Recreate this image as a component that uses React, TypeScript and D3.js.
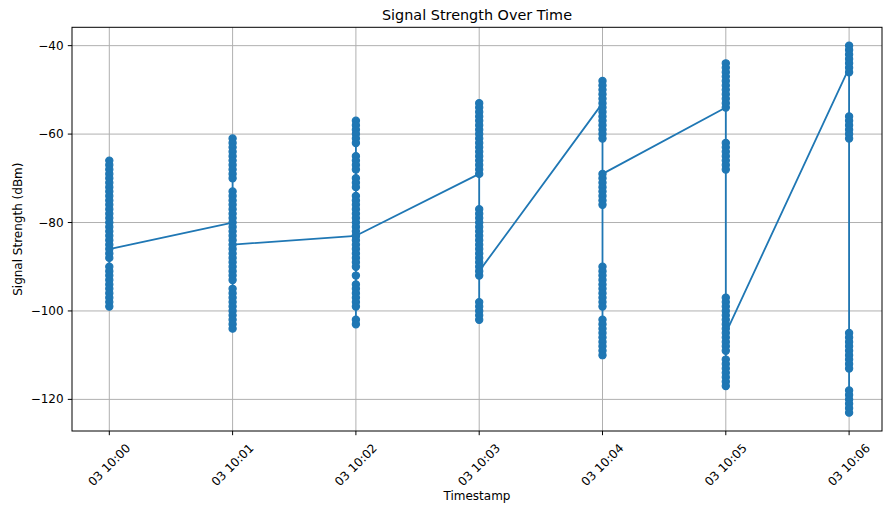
import React from "react";
import * as d3 from "d3";

const timestamps = [
  "2024-01-03T10:00:00",
  "2024-01-03T10:01:00",
  "2024-01-03T10:02:00",
  "2024-01-03T10:03:00",
  "2024-01-03T10:04:00",
  "2024-01-03T10:05:00",
  "2024-01-03T10:06:00",
];

const readings1000 = [-66,-67,-68,-69,-70,-71,-72,-73,-74,-75,-76,-77,-78,-79,-80,-81,-82,-83,-84,-85,-87,-88,-90,-91,-92,-93,-94,-95,-96,-97,-98,-99,-86];
const readings1001 = [-80,-61,-62,-63,-64,-65,-66,-67,-68,-69,-70,-73,-74,-75,-76,-77,-78,-79,-81,-82,-83,-84,-86,-87,-88,-89,-90,-91,-92,-93,-95,-96,-97,-98,-99,-100,-101,-102,-103,-104,-85];
const readings1002 = [-83,-57,-58,-59,-60,-61,-62,-65,-66,-67,-68,-70,-71,-72,-74,-75,-76,-77,-78,-79,-80,-81,-82,-84,-85,-86,-87,-88,-89,-90,-92,-94,-95,-96,-97,-98,-99,-102,-103,-83];
const readings1003 = [-69,-53,-54,-55,-56,-57,-58,-59,-60,-61,-62,-63,-64,-65,-66,-67,-68,-77,-78,-79,-80,-81,-82,-83,-84,-85,-86,-87,-88,-89,-90,-92,-98,-99,-100,-101,-102,-91];
const readings1004 = [-53,-48,-49,-50,-51,-52,-54,-55,-56,-57,-58,-59,-60,-61,-70,-71,-72,-73,-74,-75,-76,-90,-91,-92,-93,-94,-95,-96,-97,-98,-99,-102,-103,-104,-105,-106,-107,-108,-109,-110,-69];
const readings1005 = [-54,-44,-45,-46,-47,-48,-49,-50,-51,-52,-53,-62,-63,-64,-65,-66,-67,-68,-97,-98,-99,-100,-101,-102,-103,-104,-106,-107,-108,-109,-111,-112,-113,-114,-115,-116,-117,-105];
const readings1006 = [-45,-40,-41,-42,-43,-44,-46,-56,-57,-58,-59,-60,-61,-105,-106,-107,-108,-109,-110,-111,-112,-113,-118,-119,-120,-121,-122,-123];

const readingsByMinute = [readings1000, readings1001, readings1002, readings1003, readings1004, readings1005, readings1006];

const yTicks = [-120, -100, -80, -60, -40];

const W = 883;
const H = 508;
const left = 72;
const right = 882;
const top = 27.3;
const bottom = 431;
const color = "#1f77b4";
const font = "DejaVu Sans, sans-serif";

export default function App() {
  const dates = timestamps.map((t) => new Date(t));
  const points: { t: Date; v: number }[] = [];
  readingsByMinute.forEach((arr, i) => arr.forEach((v) => points.push({ t: dates[i], v })));

  const x = d3.scaleTime().domain([dates[0], dates[dates.length - 1]]).range([109.3, 849.1]);
  const y = d3.scaleLinear().domain([-127.15, -35.85]).range([bottom, top]);
  const fmt = d3.timeFormat("%d %H:%M");
  const line = d3
    .line<{ t: Date; v: number }>()
    .x((d) => x(d.t))
    .y((d) => y(d.v));

  const cx = (left + right) / 2;

  return (
    <svg width={W} height={H} style={{ position: "absolute", left: 0, top: 0, background: "#fff" }} fontFamily={font}>
      <rect x={0} y={0} width={W} height={H} fill="#fff" />
      {/* grid */}
      {dates.map((d, i) => (
        <line key={"gx" + i} x1={x(d)} x2={x(d)} y1={top} y2={bottom} stroke="#b0b0b0" strokeWidth={1} />
      ))}
      {yTicks.map((v) => (
        <line key={"gy" + v} x1={left} x2={right} y1={y(v)} y2={y(v)} stroke="#b0b0b0" strokeWidth={1} />
      ))}
      {/* data */}
      <path d={line(points) || ""} fill="none" stroke={color} strokeWidth={1.8} strokeLinejoin="round" />
      {points.map((p, i) => (
        <circle key={"p" + i} cx={x(p.t)} cy={y(p.v)} r={3.6} fill={color} stroke={color} strokeWidth={1.2} />
      ))}
      {/* frame */}
      <rect x={left} y={top} width={right - left} height={bottom - top} fill="none" stroke="#000" strokeWidth={1} />
      {/* y ticks */}
      {yTicks.map((v) => (
        <g key={"ty" + v}>
          <line x1={left - 4.2} x2={left} y1={y(v)} y2={y(v)} stroke="#000" strokeWidth={1} />
          <text x={left - 8.4} y={y(v)} textAnchor="end" dominantBaseline="central" fontSize={12} fill="#000">
            {d3.format("d")(v).replace("-", "\u2212")}
          </text>
        </g>
      ))}
      {/* x ticks */}
      {dates.map((d, i) => (
        <g key={"tx" + i}>
          <line x1={x(d)} x2={x(d)} y1={bottom} y2={bottom + 4.2} stroke="#000" strokeWidth={1} />
          <text
            transform={`translate(${x(d)},${465}) rotate(-45)`}
            textAnchor="middle"
            dominantBaseline="central"
            fontSize={12}
            fill="#000"
          >
            {fmt(d)}
          </text>
        </g>
      ))}
      <text x={cx} y={500} textAnchor="middle" fontSize={12} fill="#000">
        Timestamp
      </text>
      <text
        transform={`translate(${22},${(top + bottom) / 2}) rotate(-90)`}
        textAnchor="middle"
        fontSize={12}
        fill="#000"
      >
        Signal Strength (dBm)
      </text>
      <text x={cx} y={20} textAnchor="middle" fontSize={14.4} fill="#000">
        Signal Strength Over Time
      </text>
    </svg>
  );
}
